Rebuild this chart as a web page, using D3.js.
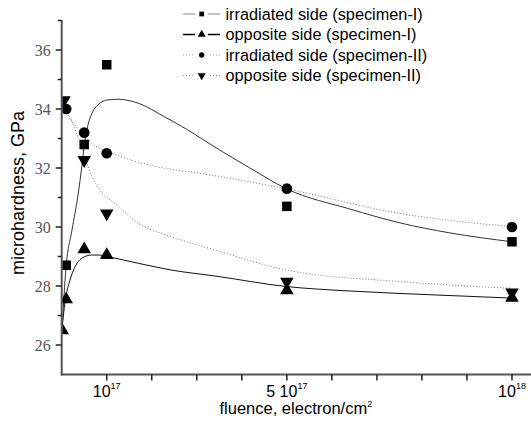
<!DOCTYPE html>
<html><head><meta charset="utf-8">
<script src="https://cdn.jsdelivr.net/npm/d3@7/dist/d3.min.js"></script>
<style>body{margin:0;background:#fff}svg{display:block}</style>
</head><body>
<svg id="c" width="531" height="421"></svg>
<script>
// fluence in units of 1e17 electron/cm^2, microhardness in GPa
const seriesNames = ["irradiated side (specimen-I)","opposite side (specimen-I)","irradiated side (specimen-II)","opposite side (specimen-II)"];
const irrI_x = [0.1, 0.5, 1, 5, 10];
const irrI_y = [28.7, 32.8, 35.5, 30.7, 29.5];
const oppI_x = [0.01, 0.1, 0.5, 1, 5, 10];
const oppI_y = [26.5, 27.55, 29.24, 29.05, 27.85, 27.6];
const irrII_x = [0.1, 0.5, 1, 5, 10];
const irrII_y = [34.0, 33.2, 32.5, 31.3, 30.0];
const oppII_x = [0.05, 0.5, 1, 5, 10];
const oppII_y = [34.3, 32.27, 30.46, 28.15, 27.78];
// fitted curves
const fitIrrI = [[0.01,26.6],[0.095,28.61],[0.229,29.9],[0.362,31.08],[0.451,32.1],[0.518,32.95],[0.584,33.46],[0.673,33.86],[0.806,34.14],[1.028,34.31],[1.25,34.33],[1.694,34.2],[2.29,33.73],[2.8,33.29],[3.4,32.71],[4.18,32.0],[5.0,31.29],[6.4,30.61],[7.51,30.14],[8.62,29.8],[10.0,29.5]];
const fitOppI = [[0.01,26.6],[0.073,27.45],[0.184,28.2],[0.296,28.65],[0.444,28.94],[0.666,29.05],[0.813,29.05],[1.035,28.99],[1.7,28.77],[2.44,28.54],[3.4,28.34],[5.0,27.98],[6.4,27.83],[8.4,27.69],[10.0,27.59]];
const fitIrrII = [[0.02,34.15],[0.11,33.86],[0.3,33.45],[0.59,32.95],[1.33,32.38],[2.07,32.06],[3.07,31.82],[3.4,31.74],[5.0,31.29],[7.51,30.46],[10.0,30.01]];
const fitOppII = [[0.02,34.2],[0.11,33.97],[0.3,33.3],[0.5,32.4],[0.67,31.73],[0.81,31.33],[1.18,30.8],[1.7,30.13],[2.44,29.67],[3.4,29.22],[5.0,28.54],[7.51,28.15],[10.0,27.92]];
const yTicksMajor = [26, 28, 30, 32, 34, 36];
const yTicksMinor = [27, 29, 31, 33, 35, 37];
const xTicks = [1,2,3,4,5,6,7,8,9,10];
const xLabelTicks = [1, 5, 10];
const xLabelBase = ["10", "5 10", "10"];
const xLabelSup = ["17", "17", "18"];

const svg = d3.select("#c");
const L = 61.7, R = 530, T = 20.5, B = 374.5;
const x = d3.scaleLinear().domain([0, 10.4]).range([L, R]);
const y = d3.scaleLinear().domain([25, 37]).range([B, T]);
const SANS = "'Liberation Sans', Arial, sans-serif";

svg.append("defs").append("clipPath").attr("id","clip")
  .append("rect").attr("x", L+0.5).attr("y", 0).attr("width", R-L).attr("height", B);

const g = svg.append("g").attr("clip-path","url(#clip)");
const line = d3.line().x(d=>x(d[0])).y(d=>y(d[1])).curve(d3.curveMonotoneX);

const fits = [
  {d: fitIrrI, stroke:"#333", w:1, dash:null},
  {d: fitOppI, stroke:"#111", w:1, dash:null},
  {d: fitIrrII, stroke:"#777", w:1, dash:"1,2"},
  {d: fitOppII, stroke:"#777", w:1, dash:"1,2"}
];
fits.forEach(f=>{
  g.append("path").attr("d", line(f.d)).attr("fill","none")
   .attr("stroke", f.stroke).attr("stroke-width", f.w)
   .attr("stroke-dasharray", f.dash);
});

const symSquare = d3.symbol().type(d3.symbolSquare).size(90);
const symCircle = d3.symbol().type(d3.symbolCircle).size(90);
const symTri = d3.symbol().type(d3.symbolTriangle).size(80);
function drawPts(xs, ys, sym, rot){
  g.selectAll(null).data(xs.map((v,i)=>[v, ys[i]])).enter().append("path")
   .attr("d", sym())
   .attr("transform", d=>`translate(${x(d[0])},${y(d[1])})${rot?" rotate(180)":""}`)
   .attr("fill","#000");
}
drawPts(irrI_x, irrI_y, symSquare, false);
drawPts(oppI_x, oppI_y, symTri, false);
drawPts(irrII_x, irrII_y, symCircle, false);
drawPts(oppII_x, oppII_y, symTri, true);

// axes
const axisColor = "#555";
svg.append("line").attr("x1", L).attr("x2", L).attr("y1", T-0.5).attr("y2", B+1)
  .attr("stroke", axisColor).attr("stroke-width", 2);
svg.append("line").attr("x1", L-1).attr("x2", 531).attr("y1", B).attr("y2", B)
  .attr("stroke", axisColor).attr("stroke-width", 2);

yTicksMajor.forEach(v=>{
  svg.append("line").attr("x1", L-6).attr("x2", L).attr("y1", y(v)).attr("y2", y(v))
    .attr("stroke","#222").attr("stroke-width",1.5);
  svg.append("text").attr("x", L-11).attr("y", y(v)).attr("dy","0.35em")
    .attr("text-anchor","end").attr("font-family","'Liberation Serif', serif")
    .attr("font-size",16).attr("fill","#555").text(v);
});
yTicksMinor.forEach(v=>{
  svg.append("line").attr("x1", L-4).attr("x2", L).attr("y1", y(v)).attr("y2", y(v))
    .attr("stroke","#222").attr("stroke-width",1.5);
});
xTicks.forEach(v=>{
  svg.append("line").attr("x1", x(v)).attr("x2", x(v)).attr("y1", B).attr("y2", B+6)
    .attr("stroke","#222").attr("stroke-width",1.5);
});
xLabelTicks.forEach((v,i)=>{
  const t = svg.append("text").attr("x", x(v)).attr("y", 397)
    .attr("text-anchor","middle").attr("font-family",SANS)
    .attr("font-size",16).attr("fill","#000");
  t.append("tspan").text(xLabelBase[i]);
  t.append("tspan").attr("dy",-8).attr("font-size",9).text(xLabelSup[i]);
});

const xt = svg.append("text").attr("x", (L+R)/2).attr("y", 414)
  .attr("text-anchor","middle").attr("font-family",SANS)
  .attr("font-size",16.5).attr("fill","#000");
xt.append("tspan").text("fluence, electron/cm");
xt.append("tspan").attr("dy",-7).attr("font-size",9).text("2");

svg.append("text").attr("transform","translate(24,193) rotate(-90)")
  .attr("text-anchor","middle").attr("font-family",SANS)
  .attr("font-size",18).attr("fill","#000").text("microhardness, GPa");

// legend
const legY = [14, 34.5, 55, 75.5];
const legStroke = ["#888", "#000", "#999", "#999"];
const legW = [1, 1.5, 1, 1];
const legDash = [null, null, "1,2", "1,2"];
const legSym = [symSquare, symTri, symCircle, symTri];
const legRot = [false, false, false, true];
const legSize = [0.5, 0.6, 0.5, 0.6];
seriesNames.forEach((n,i)=>{
  const gy = legY[i];
  svg.append("line").attr("x1",183).attr("x2",220).attr("y1",gy).attr("y2",gy)
    .attr("stroke",legStroke[i]).attr("stroke-width",legW[i]).attr("stroke-dasharray",legDash[i]);
  svg.append("rect").attr("x",195).attr("y",gy-5).attr("width",13).attr("height",10).attr("fill","#fff");
  svg.append("path").attr("d", legSym[i]())
    .attr("transform",`translate(201.7,${gy}) scale(${legSize[i]})${legRot[i]?" rotate(180)":""}`)
    .attr("fill","#000");
  svg.append("text").attr("x",225.5).attr("y",gy).attr("dy","0.35em")
    .attr("font-family",SANS).attr("font-size",16.3)
    .attr("fill","#000").text(n);
});
</script>
</body></html>
